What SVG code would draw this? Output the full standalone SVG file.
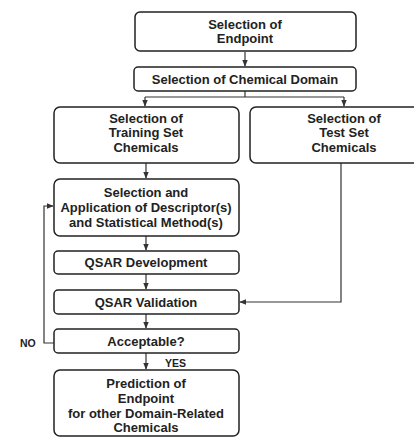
<svg xmlns="http://www.w3.org/2000/svg" width="414" height="438" viewBox="0 0 414 438">
<style>
.box{fill:#fff;stroke:#222;stroke-width:1.5}
text{font-family:"Liberation Sans",Arial,sans-serif;font-weight:bold;font-size:13px;fill:#222;text-anchor:middle}
.lbl{text-anchor:start;font-size:10.5px}
.ln{fill:none;stroke:#333;stroke-width:1.2}
</style>
<defs>
<marker id="ah" viewBox="0 0 10 10" refX="9" refY="5" markerWidth="6" markerHeight="6" orient="auto"><path d="M0,1 L10,5 L0,9 z" fill="#333"/></marker>
</defs>
<rect width="414" height="438" fill="#fff"/>
<g id="connectors">
<line class="ln" x1="245" y1="52" x2="245" y2="66" marker-end="url(#ah)"/>
<line class="ln" x1="245" y1="91" x2="245" y2="97"/>
<line class="ln" x1="145" y1="97" x2="344" y2="97"/>
<line class="ln" x1="145" y1="97" x2="145" y2="106" marker-end="url(#ah)"/>
<line class="ln" x1="344" y1="97" x2="344" y2="106" marker-end="url(#ah)"/>
<line class="ln" x1="146" y1="163" x2="146" y2="178" marker-end="url(#ah)"/>
<line class="ln" x1="146" y1="236" x2="146" y2="250" marker-end="url(#ah)"/>
<line class="ln" x1="146" y1="274" x2="146" y2="289" marker-end="url(#ah)"/>
<line class="ln" x1="146" y1="314" x2="146" y2="328" marker-end="url(#ah)"/>
<line class="ln" x1="146" y1="353" x2="146" y2="369" marker-end="url(#ah)"/>
<polyline class="ln" points="341,163 341,302 240,302" marker-end="url(#ah)"/>
<polyline class="ln" points="54,343 44,343 44,206 53,206" marker-end="url(#ah)"/>
</g>
<g id="n1"><rect class="box" x="135" y="12" width="221" height="39" rx="5"/><text x="245" y="29">Selection of</text><text x="245" y="43">Endpoint</text></g>
<g id="n2"><rect class="box" x="134" y="67" width="222" height="24" rx="4"/><text x="245" y="84">Selection of Chemical Domain</text></g>
<g id="n3"><rect class="box" x="54" y="107" width="185" height="56" rx="6"/><text x="146" y="123">Selection of</text><text x="146" y="137">Training Set</text><text x="146" y="152">Chemicals</text></g>
<g id="n4"><rect class="box" x="250" y="107" width="170" height="56" rx="6"/><text x="344" y="123">Selection of</text><text x="344" y="137">Test Set</text><text x="344" y="152">Chemicals</text></g>
<g id="n5"><rect class="box" x="54" y="179" width="185" height="57" rx="6"/><text x="146" y="197">Selection and</text><text x="146" y="212">Application of Descriptor(s)</text><text x="146" y="227">and Statistical Method(s)</text></g>
<g id="n6"><rect class="box" x="54" y="251" width="185" height="23" rx="4"/><text x="146" y="267">QSAR Development</text></g>
<g id="n7"><rect class="box" x="54" y="290" width="185" height="24" rx="4"/><text x="146" y="307">QSAR Validation</text></g>
<g id="n8"><rect class="box" x="54" y="329" width="185" height="24" rx="4"/><text x="146" y="346">Acceptable?</text></g>
<g id="n9"><rect class="box" x="54" y="370" width="185" height="66" rx="6"/><text x="146" y="388">Prediction of</text><text x="146" y="403">Endpoint</text><text x="146" y="418">for other Domain-Related</text><text x="146" y="432">Chemicals</text></g>
<text class="lbl" x="20" y="347">NO</text>
<text class="lbl" x="165" y="367">YES</text>
</svg>
